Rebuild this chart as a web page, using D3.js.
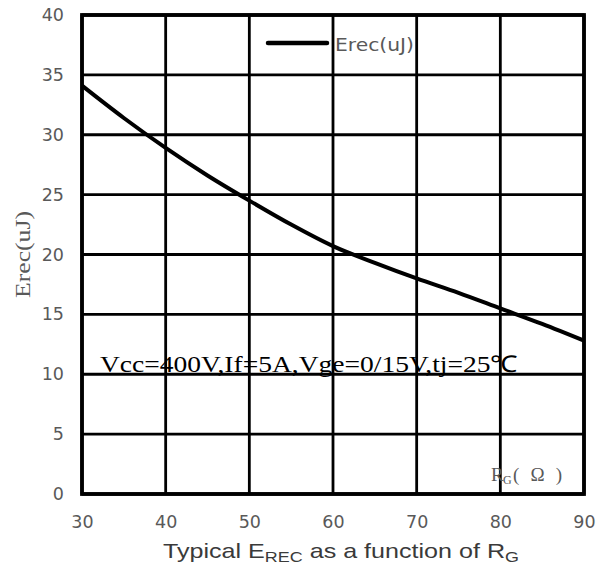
<!DOCTYPE html>
<html>
<head>
<meta charset="utf-8">
<script src="https://cdn.jsdelivr.net/npm/d3@7"></script>
<style>
  html, body { margin: 0; padding: 0; background: #fff; }
  svg { display: block; }
</style>
</head>
<body>
<svg id="chart" width="598" height="570"></svg>
<script>
// Gate resistance RG (Ω) and reverse-recovery energy Erec (uJ)
const rg = [30, 35, 40, 45, 50, 55, 60, 65, 70, 75, 80, 85, 90];
const erec = [34.1, 31.4, 28.9, 26.6, 24.5, 22.5, 20.7, 19.3, 18.0, 16.8, 15.5, 14.2, 12.8];
const xTicks = [30, 40, 50, 60, 70, 80, 90];
const yTicks = [0, 5, 10, 15, 20, 25, 30, 35, 40];
const seriesName = "Erec(uJ)";
const condition = "Vcc=400V,If=5A,Vge=0/15V,tj=25\u2103";

const svg = d3.select("#chart");
const margin = { left: 82, right: 14, top: 15, bottom: 76 };
const W = 598, H = 570;

const x = d3.scaleLinear().domain([30, 90]).range([margin.left, W - margin.right]);
const y = d3.scaleLinear().domain([0, 40]).range([H - margin.bottom, margin.top]);

const grey = "#595959";

// grid lines
const grid = svg.append("g");
grid.selectAll("line.v").data(xTicks).join("line")
  .attr("x1", d => x(d)).attr("x2", d => x(d))
  .attr("y1", y(0)).attr("y2", y(40))
  .attr("stroke", "#000").attr("stroke-width", 2.8);
grid.selectAll("line.h").data(yTicks).join("line")
  .attr("x1", x(30)).attr("x2", x(90))
  .attr("y1", d => y(d)).attr("y2", d => y(d))
  .attr("stroke", "#000").attr("stroke-width", 2.8);

// plot frame
svg.append("rect")
  .attr("x", x(30)).attr("y", y(40))
  .attr("width", x(90) - x(30)).attr("height", y(0) - y(40))
  .attr("fill", "none").attr("stroke", "#000").attr("stroke-width", 3.8);

// axes (labels only)
const xAxis = svg.append("g").attr("transform", `translate(0,${y(0)})`)
  .call(d3.axisBottom(x).tickValues(xTicks).tickSize(0).tickPadding(22));
const yAxis = svg.append("g").attr("transform", `translate(${x(30)},0)`)
  .call(d3.axisLeft(y).tickValues(yTicks).tickSize(0).tickPadding(18));
[xAxis, yAxis].forEach(a => {
  a.select(".domain").remove();
  a.selectAll("text")
    .attr("fill", grey)
    .style("font-family", "'DejaVu Sans', sans-serif")
    .style("font-size", "17.5px");
});

// curve
const line = d3.line()
  .x((d, i) => x(rg[i]))
  .y(d => y(d))
  .curve(d3.curveMonotoneX);
svg.append("path")
  .datum(erec)
  .attr("d", line)
  .attr("fill", "none")
  .attr("stroke", "#000")
  .attr("stroke-width", 4)
  .attr("stroke-linecap", "butt");

// legend
const lg = svg.append("g");
lg.append("line")
  .attr("x1", 268).attr("x2", 327).attr("y1", 43).attr("y2", 43)
  .attr("stroke", "#000").attr("stroke-width", 4.5).attr("stroke-linecap", "round");
lg.append("text")
  .attr("x", 335).attr("y", 51)
  .attr("fill", grey)
  .attr("textLength", 79).attr("lengthAdjust", "spacingAndGlyphs")
  .style("font-family", "'DejaVu Sans', sans-serif")
  .style("font-size", "18px")
  .text(seriesName);

// test condition annotation
svg.append("text")
  .attr("x", 100).attr("y", 372)
  .attr("fill", "#000")
  .attr("textLength", 418).attr("lengthAdjust", "spacingAndGlyphs")
  .style("font-family", "'Liberation Serif', 'Times New Roman', serif")
  .style("font-size", "23px")
  .text(condition);

// x unit label inside plot: R, subscript G, then (Ω)
const unitFont = "'Liberation Serif', serif";
svg.append("text")
  .attr("x", 491).attr("y", 481)
  .attr("fill", grey)
  .style("font-family", unitFont).style("font-size", "19px")
  .text("R");
svg.append("text")
  .attr("x", 503).attr("y", 484)
  .attr("fill", grey)
  .style("font-family", unitFont).style("font-size", "12px")
  .text("G");
svg.append("text")
  .attr("x", 513).attr("y", 481)
  .attr("fill", grey)
  .attr("textLength", 49).attr("lengthAdjust", "spacing")
  .style("font-family", unitFont).style("font-size", "19px")
  .text("( \u03A9 )");

// y axis title
svg.append("text")
  .attr("transform", `translate(30,${(y(0) + y(40)) / 2}) rotate(-90)`)
  .attr("text-anchor", "middle")
  .attr("fill", grey)
  .attr("textLength", 87).attr("lengthAdjust", "spacingAndGlyphs")
  .style("font-family", "'Liberation Serif', serif")
  .style("font-size", "22px")
  .text("Erec(uJ)");

// x axis title
const xt = svg.append("text")
  .attr("x", 163).attr("y", 558)
  .attr("fill", "#3a3a3a")
  .attr("textLength", 356).attr("lengthAdjust", "spacingAndGlyphs")
  .style("font-family", "'Liberation Sans', Arial, sans-serif")
  .style("font-size", "21px");
xt.append("tspan").text("Typical E");
xt.append("tspan").attr("dy", 4).style("font-size", "15px").text("REC");
xt.append("tspan").attr("dy", -4).text(" as a function of R");
xt.append("tspan").attr("dy", 4).style("font-size", "15px").text("G");
</script>
</body>
</html>
